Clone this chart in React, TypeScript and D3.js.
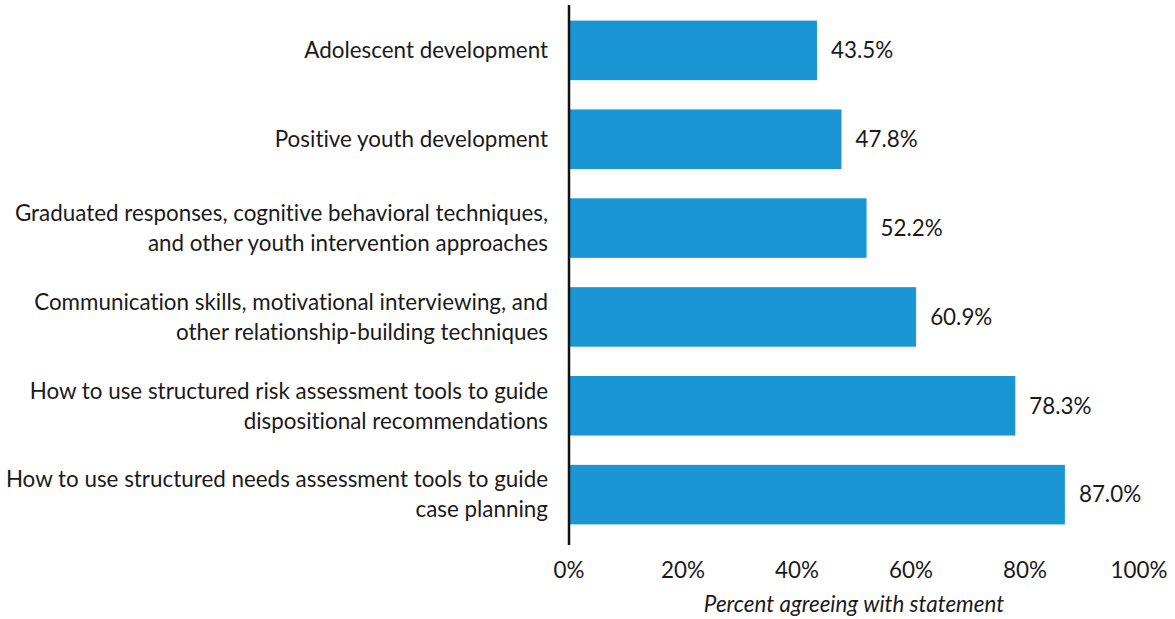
import React from "react";
import * as d3 from "d3";

const categories: string[][] = [
  ["Adolescent development"],
  ["Positive youth development"],
  ["Graduated responses, cognitive behavioral techniques,", "and other youth intervention approaches"],
  ["Communication skills, motivational interviewing, and", "other relationship-building techniques"],
  ["How to use structured risk assessment tools to guide", "dispositional recommendations"],
  ["How to use structured needs assessment tools to guide", "case planning"],
];
const values: number[] = [43.5, 47.8, 52.2, 60.9, 78.3, 87.0];
const ticks: number[] = [0, 20, 40, 60, 80, 100];
const axisTitle = "Percent agreeing with statement";

const W = 1175;
const H = 619;
const FONT = "Lato, 'Noto Sans', sans-serif";
const FS = 22.4;
const txtStyle: React.CSSProperties = { fontVariantLigatures: "none", fontKerning: "normal" };

export default function App() {
  const x = d3.scaleLinear().domain([0, 100]).range([569, 1139]);
  const idx = categories.map((_, i) => String(i));
  const y = d3
    .scaleBand<string>()
    .domain(idx)
    .range([5.5, 539.5])
    .paddingInner(0.33)
    .paddingOuter(0.17);
  const bw = y.bandwidth();
  const lineH = 30;
  return (
    <svg width={W} height={H} style={{ position: "absolute", left: 0, top: 0 }}>
      <rect width={W} height={H} fill="#fff" />
      {values.map((v, i) => {
        const yy = y(String(i))!;
        const cy = yy + bw / 2;
        const lines = categories[i];
        return (
          <g key={i}>
            <rect x={x(0)} y={yy} width={x(v) - x(0)} height={bw} fill="#1996d3" />
            <text
              x={x(v) + 14}
              y={cy}
              dy="0.35em"
              fontFamily={FONT}
              fontSize={FS}
              fill="#1a1a1a"
              style={txtStyle}
            >
              {v.toFixed(1) + "%"}
            </text>
            {lines.map((l, j) => (
              <text
                key={j}
                x={548}
                y={cy + (j - (lines.length - 1) / 2) * lineH}
                dy="0.35em"
                textAnchor="end"
                fontFamily={FONT}
                fontSize={FS}
                fill="#1a1a1a"
                style={txtStyle}
              >
                {l}
              </text>
            ))}
          </g>
        );
      })}
      <line x1={x(0)} x2={x(0)} y1={5} y2={545} stroke="#111" strokeWidth={2.5} />
      {ticks.map((t) => (
        <text
          key={t}
          x={x(t)}
          y={570}
          dy="0.35em"
          textAnchor="middle"
          fontFamily={FONT}
          fontSize={FS}
          fill="#1a1a1a"
          style={txtStyle}
        >
          {t + "%"}
        </text>
      ))}
      <text
        x={(x(0) + x(100)) / 2}
        y={604}
        dy="0.35em"
        textAnchor="middle"
        fontFamily={FONT}
        fontSize={FS}
        fontStyle="italic"
        fill="#1a1a1a"
        style={txtStyle}
      >
        {axisTitle}
      </text>
    </svg>
  );
}
